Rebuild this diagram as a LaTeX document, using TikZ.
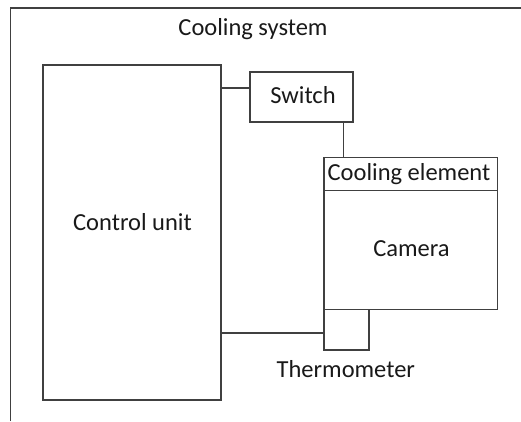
\documentclass[tikz,border=0pt]{standalone}
\usepackage{fontspec}
\setmainfont{Carlito}
\begin{document}
\begin{tikzpicture}[x=1pt,y=-1pt,
  line/.style={draw=black!75,line width=1.4pt},
  box/.style={line,rectangle,inner sep=0pt,outer sep=0pt},
  txt/.style={font=\fontsize{24.5}{29}\selectfont,text=black!90,inner sep=0pt,anchor=base}]
\useasboundingbox (0,0) rectangle (521,421);
% outer frame (cropped)
\coordinate (fbl) at (10.5,421);
\coordinate (ftl) at (10.5,8);
\coordinate (ftr) at (521,8);
\draw[line] (fbl) -- (ftl) -- (ftr);
\node[txt] (title) at (253,35) {Cooling system};
% boxes
\node[box,minimum width=178pt,minimum height=335pt] (ctrl) at (132,232.5) {};
\node[box,minimum width=103pt,minimum height=50pt] (sw) at (301.5,97) {};
\node[box,minimum width=173.3pt,minimum height=33.4pt] (cool) at (410.65,174) {};
\node[box,minimum width=173.3pt,minimum height=118.6pt] (cam) at (410.65,250) {};
\node[box,minimum width=45pt,minimum height=40.7pt] (therm) at (346.5,329.65) {};
% labels
\node[txt] (ctrltxt) at (132.5,230) {Control unit};
\node[txt] (swtxt) at (303,103.3) {Switch};
\node[txt] (cooltxt) at (409,180) {Cooling element};
\node[txt] (camtxt) at (411.5,256.7) {Camera};
\node[txt] (thermtxt) at (345.8,377.3) {Thermometer};
% connectors
\draw[line] (ctrl.east |- 0,88) -- (sw.west |- 0,88);
\draw[line] (sw.south -| 343.3,0) -- (cool.north -| 343.3,0);
\draw[line] (ctrl.east |- 0,333) -- (therm.west |- 0,333);
\end{tikzpicture}
\end{document}
